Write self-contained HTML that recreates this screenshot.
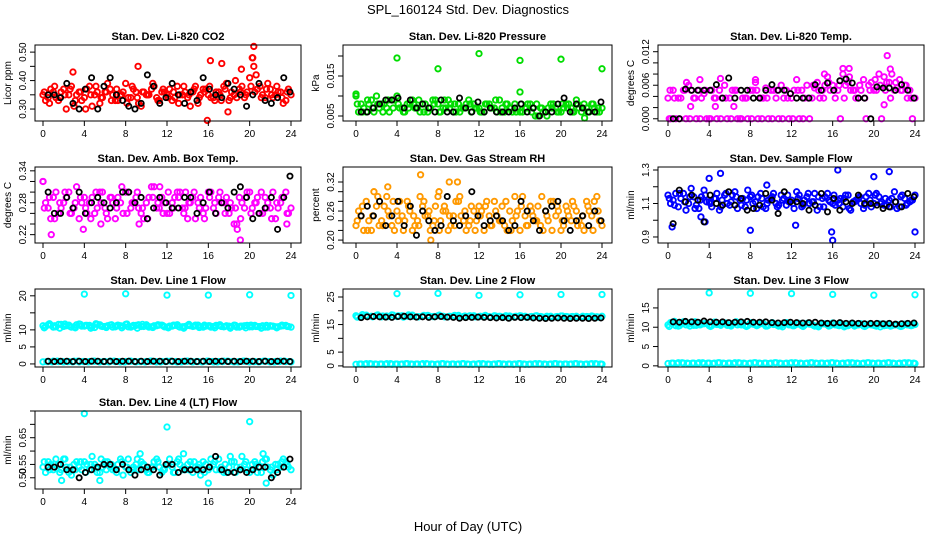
<!DOCTYPE html>
<html><head><meta charset="utf-8"><style>
html,body{margin:0;padding:0;background:#fff;}
svg{display:block;font-family:"Liberation Sans",sans-serif;}
</style></head><body>
<svg id="chart" width="936" height="540" viewBox="0 0 936 540" xmlns="http://www.w3.org/2000/svg">
<rect width="936" height="540" fill="#fff"/>
<text x="468" y="14" font-size="13" text-anchor="middle">SPL_160124  Std. Dev. Diagnostics</text>
<text x="468" y="531" font-size="13" text-anchor="middle">Hour of Day (UTC)</text>
</svg>
<script>
const hoursA=[0,0.5,1,1.5,2,2.5,3,3.5,4,4.5,5,5.5,6,6.5,7,7.5,8,8.5,9,9.5,10,10.5,11,11.5,12,12.5,13,13.5,14,14.5,15,15.5,16,16.5,17,17.5,18,18.5,19,19.5,20,20.5,21,21.5,22,22.5,23,23.5,24];
const hoursB=[0.25,0.75,1.25,1.75,2.25,2.75,3.25,3.75,4.25,4.75,5.25,5.75,6.25,6.75,7.25,7.75,8.25,8.75,9.25,9.75,10.25,10.75,11.25,11.75,12.25,12.75,13.25,13.75,14.25,14.75,15.25,15.75,16.25,16.75,17.25,17.75,18.25,18.75,19.25,19.75,20.25,20.75,21.25,21.75,22.25,22.75,23.25,23.75];
const hoursC=[0.125,0.625,1.125,1.625,2.125,2.625,3.125,3.625,4.125,4.625,5.125,5.625,6.125,6.625,7.125,7.625,8.125,8.625,9.125,9.625,10.125,10.625,11.125,11.625,12.125,12.625,13.125,13.625,14.125,14.625,15.125,15.625,16.125,16.625,17.125,17.625,18.125,18.625,19.125,19.625,20.125,20.625,21.125,21.625,22.125,22.625,23.125,23.625];
const hoursD=[0.375,0.875,1.375,1.875,2.375,2.875,3.375,3.875,4.375,4.875,5.375,5.875,6.375,6.875,7.375,7.875,8.375,8.875,9.375,9.875,10.375,10.875,11.375,11.875,12.375,12.875,13.375,13.875,14.375,14.875,15.375,15.875,16.375,16.875,17.375,17.875,18.375,18.875,19.375,19.875,20.375,20.875,21.375,21.875,22.375,22.875,23.375,23.875];
const hoursK=[0.5,1.1,1.7,2.3,2.9,3.5,4.1,4.7,5.3,5.9,6.5,7.1,7.7,8.3,8.9,9.5,10.1,10.7,11.3,11.9,12.5,13.1,13.7,14.3,14.9,15.5,16.1,16.7,17.3,17.9,18.5,19.1,19.7,20.3,20.9,21.5,22.1,22.7,23.3,23.9];
const xTicks=[0,4,8,12,16,20,24];

// CO2
const co2A=[0.35,0.34,0.36,0.33,0.37,0.35,0.31,0.36,0.34,0.38,0.35,0.32,0.36,0.37,0.33,0.35,0.39,0.34,0.36,0.31,0.35,0.37,0.34,0.36,0.35,0.33,0.38,0.35,0.34,0.36,0.32,0.37,0.35,0.34,0.36,0.38,0.33,0.35,0.37,0.34,0.41,0.36,0.38,0.34,0.37,0.35,0.36,0.33,0.35];
const co2B=[0.33,0.37,0.34,0.36,0.30,0.38,0.35,0.33,0.37,0.31,0.36,0.34,0.39,0.35,0.33,0.36,0.34,0.37,0.32,0.36,0.35,0.38,0.33,0.36,0.37,0.34,0.35,0.36,0.31,0.38,0.35,0.37,0.34,0.36,0.33,0.39,0.36,0.34,0.38,0.36,0.48,0.37,0.35,0.39,0.34,0.36,0.32,0.37];
const co2C=[0.36,0.32,0.38,0.34,0.35,0.37,0.33,0.36,0.30,0.35,0.38,0.34,0.36,0.33,0.37,0.35,0.32,0.38,0.34,0.36,0.35,0.39,0.33,0.37,0.34,0.36,0.32,0.38,0.35,0.37,0.34,0.36,0.38,0.33,0.35,0.37,0.34,0.40,0.36,0.35,0.38,0.42,0.34,0.37,0.35,0.38,0.34,0.36];
const co2OutH=[2.9,9.2,15.9,16.2,17.3,20.3,20.4,20.4,19.2,17.9];
const co2OutV=[0.43,0.45,0.26,0.47,0.46,0.48,0.52,0.45,0.44,0.29];
const co2K=[0.35,0.35,0.34,0.39,0.32,0.30,0.37,0.41,0.30,0.38,0.41,0.35,0.33,0.31,0.30,0.32,0.42,0.38,0.32,0.34,0.39,0.35,0.32,0.36,0.33,0.41,0.37,0.35,0.34,0.39,0.37,0.35,0.31,0.35,0.39,0.33,0.32,0.34,0.41,0.36];
// Pressure
const prA=[0.010,0.008,0.006,0.009,0.010,0.008,0.007,0.009,0.010,0.007,0.008,0.009,0.007,0.008,0.006,0.009,0.008,0.007,0.009,0.006,0.008,0.007,0.009,0.008,0.007,0.006,0.008,0.007,0.009,0.006,0.007,0.008,0.006,0.007,0.008,0.005,0.007,0.006,0.008,0.007,0.006,0.008,0.007,0.009,0.006,0.007,0.008,0.006,0.007];
const prB=[0.006,0.007,0.008,0.006,0.007,0.008,0.006,0.009,0.007,0.006,0.008,0.007,0.006,0.008,0.007,0.009,0.006,0.007,0.008,0.006,0.007,0.008,0.006,0.007,0.006,0.008,0.007,0.006,0.007,0.008,0.006,0.007,0.006,0.008,0.007,0.005,0.006,0.007,0.008,0.006,0.007,0.008,0.006,0.007,0.008,0.006,0.007,0.006];
const prC=[0.008,0.006,0.009,0.007,0.008,0.006,0.009,0.007,0.008,0.006,0.007,0.008,0.009,0.006,0.007,0.008,0.006,0.009,0.007,0.008,0.006,0.007,0.008,0.007,0.006,0.008,0.007,0.009,0.006,0.008,0.007,0.006,0.008,0.007,0.006,0.008,0.007,0.005,0.007,0.006,0.008,0.007,0.006,0.008,0.007,0.006,0.008,0.007];
const prOutH=[4,8,12,16,20,24,16,22.3,0];
const prOutV=[0.0195,0.0168,0.0206,0.0189,0.0192,0.0168,0.0110,0.0045,0.0105];
const prK=[0.006,0.006,0.007,0.008,0.009,0.009,0.0095,0.007,0.009,0.007,0.008,0.007,0.006,0.009,0.006,0.006,0.0095,0.007,0.006,0.0085,0.006,0.007,0.006,0.006,0.006,0.007,0.008,0.006,0.007,0.005,0.006,0.006,0.008,0.0095,0.006,0.008,0.007,0.006,0.006,0.0085];
// Li temp
const ltA=[0.0037,0.0051,0.0037,0.0051,0.0060,0.0037,0.0051,0.0045,0.0000,0.0037,0.0051,0.0060,0.0037,0.0051,0.0000,0.0037,0.0051,0.0065,0.0037,0.0055,0.0051,0.0037,0.0060,0.0051,0.0037,0.0070,0.0051,0.0060,0.0037,0.0065,0.0051,0.0075,0.0060,0.0051,0.0080,0.0065,0.0051,0.0037,0.0070,0.0060,0.0051,0.0080,0.0075,0.0065,0.0051,0.0070,0.0060,0.0051,0.0037];
const ltB=[0,0,0.0037,0,0.0051,0,0.0037,0,0.0051,0,0.0037,0,0.0051,0,0.0037,0,0.0051,0,0.0037,0,0.0051,0,0.0037,0,0.0051,0,0.0037,0,0.0055,0.0037,0.0060,0.0051,0.0037,0,0.0060,0.0051,0.0037,0.0051,0,0.0065,0.0051,0,0.0065,0.0080,0.0055,0.0051,0.0037,0];
const ltC=[0,0.0037,0,0.0051,0,0.0037,0,0.0051,0,0.0037,0,0.0037,0,0.0051,0,0.0037,0,0.0051,0,0.0037,0,0.0051,0,0.0037,0,0.0051,0,0.0037,0.0060,0.0051,0.0037,0.0065,0.0051,0.0060,0.0037,0.0075,0.0051,0.0060,0.0037,0.0051,0.0070,0.0060,0.0051,0.0037,0.0065,0.0051,0.0060,0.0037];
const ltOutH=[0.2,1.8,3.1,5.1,8.5,15.2,17,17.6,21.3,21.6,21.0,2.2,4.6,6.4];
const ltOutV=[0.0051,0.0065,0.0070,0.0072,0.0070,0.0080,0.0090,0.0090,0.0113,0.0089,0.0025,0.0022,0.0022,0.0022];
const ltK=[0,0,0.0053,0.0051,0.0051,0.0051,0.0051,0.0061,0.0037,0.0073,0.0037,0.0051,0.0051,0.0037,0.0037,0.0051,0.0061,0.0051,0.0051,0.0045,0.0037,0.0037,0.0037,0.0061,0.0051,0.0064,0.0051,0.0068,0.0071,0.0064,0.0037,0.0037,0,0.0057,0.0055,0.0055,0.0051,0.0061,0.0051,0.0037];
// Amb box
const abA=[0.32,0.27,0.29,0.26,0.28,0.30,0.27,0.25,0.29,0.28,0.26,0.30,0.27,0.29,0.25,0.28,0.30,0.27,0.29,0.26,0.28,0.31,0.27,0.29,0.26,0.28,0.30,0.27,0.25,0.29,0.28,0.26,0.30,0.27,0.29,0.28,0.26,0.24,0.29,0.27,0.30,0.28,0.26,0.29,0.27,0.25,0.28,0.30,0.27];
const abB=[0.28,0.25,0.30,0.27,0.29,0.26,0.31,0.28,0.26,0.29,0.27,0.30,0.25,0.28,0.29,0.26,0.30,0.28,0.27,0.25,0.29,0.31,0.27,0.28,0.26,0.29,0.30,0.27,0.28,0.25,0.29,0.27,0.30,0.26,0.28,0.29,0.27,0.24,0.28,0.30,0.27,0.29,0.26,0.28,0.30,0.27,0.29,0.26];
const abC=[0.27,0.29,0.25,0.28,0.30,0.26,0.28,0.29,0.27,0.25,0.30,0.28,0.26,0.29,0.27,0.31,0.26,0.28,0.30,0.27,0.25,0.29,0.28,0.26,0.30,0.27,0.29,0.26,0.28,0.30,0.27,0.25,0.29,0.28,0.30,0.26,0.28,0.27,0.25,0.29,0.26,0.28,0.30,0.27,0.25,0.28,0.29,0.26];
const abOutH=[0,0.8,3.9,11.3,13.8,19.1,18.8,9.3,23.6,5.6];
const abOutV=[0.32,0.22,0.23,0.31,0.30,0.21,0.23,0.24,0.24,0.24];
const abK=[0.30,0.26,0.26,0.29,0.27,0.30,0.26,0.28,0.29,0.28,0.27,0.28,0.30,0.30,0.28,0.29,0.25,0.27,0.29,0.28,0.27,0.27,0.29,0.29,0.26,0.28,0.30,0.26,0.28,0.27,0.30,0.31,0.29,0.25,0.26,0.27,0.29,0.23,0.29,0.33];
// RH
const rhA=[0.23,0.25,0.28,0.22,0.27,0.24,0.29,0.23,0.26,0.25,0.28,0.22,0.24,0.27,0.25,0.23,0.29,0.26,0.22,0.25,0.28,0.24,0.23,0.26,0.27,0.22,0.25,0.28,0.24,0.23,0.26,0.29,0.22,0.25,0.27,0.24,0.23,0.26,0.28,0.25,0.22,0.27,0.24,0.26,0.23,0.28,0.25,0.29,0.23];
const rhB=[0.26,0.22,0.24,0.30,0.23,0.27,0.25,0.22,0.28,0.24,0.26,0.23,0.29,0.25,0.22,0.27,0.24,0.26,0.23,0.28,0.25,0.22,0.27,0.24,0.26,0.28,0.23,0.25,0.27,0.22,0.24,0.26,0.29,0.23,0.25,0.27,0.22,0.24,0.28,0.26,0.23,0.25,0.27,0.24,0.22,0.26,0.28,0.24];
const rhC=[0.24,0.27,0.22,0.25,0.29,0.23,0.26,0.28,0.24,0.22,0.27,0.25,0.23,0.28,0.26,0.24,0.22,0.27,0.25,0.23,0.29,0.26,0.24,0.22,0.25,0.27,0.23,0.26,0.24,0.28,0.22,0.25,0.27,0.23,0.26,0.24,0.29,0.25,0.22,0.27,0.24,0.26,0.28,0.23,0.25,0.27,0.22,0.26];
const rhOutH=[6.3,9.1,9.9,7.3,3.1,8.1];
const rhOutV=[0.335,0.32,0.32,0.20,0.31,0.30];
const rhK=[0.25,0.27,0.25,0.28,0.23,0.25,0.28,0.23,0.27,0.21,0.26,0.24,0.22,0.23,0.29,0.24,0.23,0.25,0.30,0.25,0.23,0.24,0.25,0.24,0.22,0.23,0.28,0.26,0.24,0.22,0.26,0.27,0.28,0.24,0.22,0.24,0.25,0.23,0.26,0.24];
// Sample flow
const sfA=[1.15,1.12,1.08,1.16,1.10,1.14,1.07,1.18,1.11,1.13,1.06,1.15,1.09,1.17,1.12,1.08,1.14,1.11,1.16,1.07,1.13,1.10,1.15,1.09,1.12,1.17,1.08,1.14,1.11,1.06,1.13,1.16,1.10,1.12,1.08,1.15,1.11,1.13,1.07,1.16,1.10,1.14,1.09,1.12,1.17,1.08,1.13,1.11,1.15];
const sfB=[1.10,1.16,1.13,1.06,1.19,1.09,1.14,1.11,1.08,1.16,1.12,1.10,1.15,1.07,1.13,1.18,1.10,1.14,1.08,1.12,1.16,1.09,1.13,1.11,1.07,1.15,1.12,1.10,1.16,1.08,1.14,1.11,1.09,1.13,1.15,1.06,1.12,1.10,1.14,1.08,1.16,1.11,1.09,1.13,1.07,1.15,1.10,1.12];
const sfC=[1.13,1.09,1.16,1.11,1.14,1.07,1.12,1.15,1.10,1.13,1.08,1.16,1.11,1.14,1.09,1.12,1.15,1.07,1.13,1.10,1.14,1.08,1.12,1.15,1.10,1.13,1.09,1.16,1.11,1.14,1.08,1.12,1.15,1.10,1.13,1.07,1.11,1.14,1.09,1.12,1.15,1.10,1.13,1.08,1.11,1.14,1.09,1.12];
const sfOutH=[0.4,3.2,4.0,5.1,8.0,16.0,15.9,16.5,21.5,20.0,24,12.4,3.6,9.6];
const sfOutV=[0.96,1.02,1.25,1.28,0.94,0.88,0.93,1.30,1.29,1.26,0.93,0.97,0.99,1.21];
const sfK=[0.98,1.18,1.11,1.15,1.12,0.99,1.15,1.10,1.09,1.17,1.09,1.13,1.06,1.07,1.09,1.16,1.12,1.04,1.17,1.11,1.11,1.10,1.06,1.09,1.16,1.05,1.13,1.06,1.11,1.10,1.15,1.10,1.10,1.09,1.07,1.08,1.11,1.08,1.16,1.14];
// Line flows
const lowBand=[0.6,0.7,0.8,0.7,0.6,0.7,0.8,0.6,0.7,0.7,0.8,0.6,0.7,0.8,0.7,0.6,0.7,0.8,0.6,0.7,0.7,0.8,0.6,0.7,0.8,0.7,0.6,0.7,0.8,0.6,0.7,0.7,0.8,0.6,0.7,0.8,0.7,0.6,0.7,0.8,0.6,0.7,0.7,0.8,0.6,0.7,0.8,0.7,0.6];
const lowBand2=[0.7,0.6,0.8,0.7,0.7,0.6,0.8,0.7,0.6,0.8,0.7,0.7,0.6,0.8,0.7,0.6,0.8,0.7,0.7,0.6,0.8,0.7,0.6,0.7,0.8,0.7,0.6,0.8,0.7,0.7,0.6,0.8,0.7,0.6,0.7,0.8,0.7,0.6,0.8,0.7,0.7,0.6,0.8,0.7,0.6,0.7,0.8,0.7];
const l1A=[11.2,11.5,10.8,11.6,11.0,11.4,10.9,11.7,11.1,11.3,10.7,11.5,11.0,11.4,10.9,11.2,11.6,10.8,11.3,11.0,11.5,10.9,11.2,11.4,10.8,11.1,11.5,10.9,11.3,11.0,11.4,10.8,11.2,11.0,11.3,10.9,11.1,11.4,10.8,11.2,10.9,11.3,11.0,10.8,11.2,10.9,11.1,11.3,10.8];
const l1B=[11.0,11.4,10.9,11.6,11.2,10.8,11.5,11.1,11.3,10.9,11.6,11.0,11.2,10.8,11.4,11.1,10.9,11.3,11.5,11.0,10.8,11.2,11.4,10.9,11.1,11.3,10.8,11.0,11.2,11.4,10.9,11.1,10.8,11.3,11.0,11.2,10.9,10.8,11.1,11.3,10.9,11.0,11.2,10.8,11.1,10.9,11.2,11.0];
const l1C=[10.6,11.8,11.2,10.5,11.7,11.0,10.6,11.6,11.3,10.5,11.8,11.1,10.7,11.5,11.2,10.6,11.7,11.0,10.5,11.6,11.1,10.7,11.5,11.2,10.6,11.4,11.0,10.5,11.6,11.1,10.7,11.4,11.2,10.6,11.5,11.0,10.5,11.3,11.1,10.6,11.4,11.0,10.5,11.3,11.1,10.6,11.4,11.0];
const l1OutH=[4,8,12,16,20,24];
const l1OutV=[20.5,20.6,20.2,20.2,20.3,20.1];
const l1K=[0.8,0.7,0.8,0.8,0.7,0.8,0.7,0.8,0.8,0.7,0.8,0.7,0.8,0.8,0.7,0.8,0.7,0.8,0.8,0.7,0.8,0.7,0.8,0.8,0.7,0.8,0.7,0.8,0.8,0.7,0.8,0.7,0.8,0.8,0.7,0.8,0.7,0.8,0.8,0.7];
const l2A=[18.2,17.9,18.4,18.0,18.3,17.8,18.1,18.5,17.9,18.2,18.0,18.4,17.8,18.1,18.3,17.9,18.2,18.0,17.8,18.1,18.3,17.9,18.0,18.2,17.8,18.1,17.9,18.2,18.0,17.8,18.1,17.9,18.2,18.0,17.8,18.1,17.9,17.7,18.0,17.8,18.1,17.9,17.8,18.0,17.7,17.9,18.1,17.8,18.0];
const l2C=[17.7,18.6,18.0,17.8,18.5,18.1,17.9,18.4,18.2,17.7,18.5,18.0,17.8,18.3,18.1,17.9,18.4,17.8,18.0,18.3,17.7,18.1,18.2,17.8,18.0,18.3,17.7,18.1,17.9,18.2,17.8,18.0,18.1,17.7,17.9,18.2,17.8,18.0,17.7,17.9,18.1,17.8,17.9,17.6,18.0,17.8,17.9,17.7];
const l2OutH=[4,8,12,16,20,24];
const l2OutV=[26.2,26.3,25.6,25.8,25.9,25.9];
const l2K=[17.5,17.8,17.9,17.8,17.7,17.6,17.9,18.0,17.8,17.7,17.8,17.6,17.8,17.9,17.7,17.6,17.3,17.5,17.6,17.7,17.6,17.5,17.4,17.5,17.3,17.6,17.5,17.6,17.4,17.3,17.2,17.3,17.4,17.3,17.2,17.3,17.3,17.2,17.3,17.4];
const l3A=[10.6,11.1,10.3,11.4,10.8,10.5,11.2,10.9,10.4,11.3,10.7,11.0,10.5,11.2,10.8,10.4,11.1,10.6,10.9,10.3,11.0,10.7,10.5,11.2,10.6,10.9,10.4,11.0,10.7,10.3,10.9,10.6,11.1,10.5,10.8,10.4,10.9,10.6,10.3,10.8,10.5,10.9,10.4,10.7,10.6,10.3,10.8,10.5,10.7];
const l3B=[11.2,10.4,10.9,10.6,11.3,10.5,10.8,11.0,10.4,10.7,11.1,10.5,10.9,10.6,11.2,10.4,10.8,10.6,11.0,10.5,10.7,10.3,10.9,10.6,10.4,11.0,10.5,10.8,10.3,10.7,10.9,10.4,10.6,10.8,10.3,10.7,10.5,10.9,10.4,10.6,10.3,10.8,10.5,10.4,10.7,10.3,10.6,10.5];
const l3C=[10.2,11.5,10.4,11.2,10.3,11.4,10.6,11.0,10.2,11.3,10.5,11.1,10.3,11.4,10.6,10.2,11.2,10.4,11.0,10.3,11.2,10.5,10.1,11.1,10.4,10.8,10.2,11.0,10.5,10.1,10.9,10.3,11.0,10.4,10.1,10.8,10.3,10.9,10.2,10.7,10.4,10.1,10.8,10.3,10.6,10.2,10.7,10.4];
const l3OutH=[4,8,12,16,20,24];
const l3OutV=[18.9,18.8,18.7,18.5,18.3,18.4];
const l3K=[11.4,11.3,11.5,11.4,11.3,11.6,11.4,11.3,11.4,11.2,11.3,11.4,11.5,11.3,11.3,11.4,11.2,11.1,11.2,11.3,11.2,11.1,11.2,11.3,11.1,11.0,11.1,11.2,11.0,11.1,11.0,10.9,11.0,11.0,10.9,11.0,10.8,10.9,11.0,11.1];
const l4A=[0.54,0.56,0.53,0.55,0.57,0.52,0.55,0.54,0.56,0.53,0.55,0.52,0.56,0.54,0.53,0.57,0.54,0.52,0.55,0.56,0.53,0.54,0.57,0.52,0.55,0.54,0.56,0.53,0.55,0.52,0.54,0.56,0.53,0.55,0.57,0.52,0.54,0.56,0.53,0.55,0.52,0.56,0.54,0.57,0.53,0.55,0.54,0.56,0.53];
const l4B=[0.52,0.55,0.57,0.53,0.54,0.51,0.56,0.53,0.55,0.58,0.52,0.54,0.56,0.53,0.55,0.51,0.57,0.54,0.53,0.55,0.52,0.56,0.54,0.53,0.57,0.52,0.55,0.53,0.56,0.54,0.51,0.55,0.57,0.53,0.54,0.52,0.56,0.54,0.58,0.53,0.55,0.52,0.56,0.54,0.51,0.55,0.57,0.54];
const l4C=[0.56,0.53,0.55,0.52,0.57,0.54,0.53,0.56,0.52,0.55,0.54,0.57,0.53,0.55,0.52,0.56,0.54,0.53,0.57,0.55,0.52,0.54,0.56,0.53,0.55,0.52,0.57,0.54,0.53,0.56,0.55,0.52,0.54,0.56,0.53,0.55,0.58,0.52,0.54,0.56,0.53,0.55,0.52,0.57,0.54,0.53,0.56,0.55];
const l4OutH=[4,12,20,9.4,13.6,21.3,21.6,16,5.5,1.8];
const l4OutV=[0.74,0.69,0.71,0.59,0.59,0.59,0.48,0.48,0.49,0.49];
const l4K=[0.54,0.54,0.55,0.53,0.53,0.50,0.52,0.53,0.54,0.55,0.55,0.53,0.55,0.53,0.51,0.53,0.54,0.53,0.51,0.55,0.55,0.52,0.53,0.53,0.53,0.53,0.54,0.58,0.53,0.52,0.52,0.53,0.52,0.53,0.54,0.54,0.50,0.52,0.54,0.57];

const NS="http://www.w3.org/2000/svg";
const svg=document.getElementById('chart');
const cols=[{l:35,r:301,x0:43,x24:291},{l:343,r:612,x0:356,x24:602},{l:658,r:924,x0:668,x24:915}];
const rows=[{t:45,b:121},{t:167,b:243},{t:289,b:367},{t:411,b:489}];
function mk(tag,attrs,parent){const e=document.createElementNS(NS,tag);for(const k in attrs)e.setAttribute(k,attrs[k]);(parent||svg).appendChild(e);return e;}

const panels=[
 {c:0,r:0,title:"Stan. Dev. Li-820 CO2",yl:"Licor ppm",ylim:[0.258,0.525],ticks:[0.30,0.35,0.40,0.45,0.50],labels:[0.30,0.40,0.50],lf:2,col:"#ff0000",series:[[hoursA,co2A],[hoursB,co2B],[hoursC,co2C],[co2OutH,co2OutV]],k:co2K},
 {c:1,r:0,title:"Stan. Dev. Li-820 Pressure",yl:"kPa",ylim:[0.00375,0.02275],ticks:[0.005,0.010,0.015,0.020],labels:[0.005,0.015],lf:3,col:"#00dd00",series:[[hoursA,prA],[hoursB,prB],[hoursC,prC],[prOutH,prOutV]],k:prK},
 {c:2,r:0,title:"Stan. Dev. Li-820 Temp.",yl:"degrees C",ylim:[-0.0004,0.0132],ticks:[0,0.002,0.004,0.006,0.008,0.010,0.012],labels:[0,0.006,0.012],lf:3,col:"#ff00ff",series:[[hoursA,ltA],[hoursB,ltB],[hoursC,ltC],[ltOutH,ltOutV]],k:ltK},
 {c:0,r:1,title:"Stan. Dev. Amb. Box Temp.",yl:"degrees C",ylim:[0.2043,0.3472],ticks:[0.22,0.24,0.26,0.28,0.30,0.32,0.34],labels:[0.22,0.28,0.34],lf:2,col:"#ff00ff",series:[[hoursA,abA],[hoursB,abB],[hoursC,abC],[abOutH,abOutV]],k:abK},
 {c:1,r:1,title:"Stan. Dev. Gas Stream RH",yl:"percent",ylim:[0.194,0.351],ticks:[0.20,0.22,0.24,0.26,0.28,0.30,0.32],labels:[0.20,0.26,0.32],lf:2,col:"#ff9900",series:[[hoursA,rhA],[hoursB,rhB],[hoursC,rhC],[rhOutH,rhOutV]],k:rhK},
 {c:2,r:1,title:"Stan. Dev. Sample Flow",yl:"ml/min",ylim:[0.864,1.318],ticks:[0.9,1.0,1.1,1.2,1.3],labels:[0.9,1.1,1.3],lf:1,col:"#0000ff",series:[[hoursA,sfA],[hoursB,sfB],[hoursC,sfC],[sfOutH,sfOutV]],k:sfK},
 {c:0,r:2,title:"Stan. Dev. Line 1 Flow",yl:"ml/min",ylim:[-0.9,22],ticks:[0,5,10,15,20],labels:[0,5,10,20],lf:0,col:"#00ffff",series:[[hoursA,l1A],[hoursB,l1B],[hoursC,l1C],[hoursA,lowBand],[hoursD,lowBand2],[l1OutH,l1OutV]],k:l1K},
 {c:1,r:2,title:"Stan. Dev. Line 2 Flow",yl:"ml/min",ylim:[-0.4,27.9],ticks:[0,5,10,15,20,25],labels:[0,5,15,25],lf:0,col:"#00ffff",series:[[hoursA,l2A],[hoursC,l2C],[hoursA,lowBand],[hoursD,lowBand2],[l2OutH,l2OutV]],k:l2K},
 {c:2,r:2,title:"Stan. Dev. Line 3 Flow",yl:"ml/min",ylim:[-0.3,19.9],ticks:[0,5,10,15],labels:[0,5,10,15],lf:0,col:"#00ffff",series:[[hoursA,l3A],[hoursB,l3B],[hoursC,l3C],[hoursA,lowBand],[hoursD,lowBand2],[l3OutH,l3OutV]],k:l3K},
 {c:0,r:3,title:"Stan. Dev. Line 4 (LT) Flow",yl:"ml/min",ylim:[0.458,0.75],ticks:[0.50,0.55,0.60,0.65,0.70,0.75],labels:[0.50,0.55,0.65],lf:2,col:"#00ffff",series:[[hoursA,l4A],[hoursB,l4B],[hoursC,l4C],[l4OutH,l4OutV]],k:l4K}
];

panels.forEach((p,i)=>{
 const C=cols[p.c],R=rows[p.r];
 const g=mk('g',{});
 
 
 const sx=h=>C.x0+(C.x24-C.x0)*h/24;
 const sy=v=>R.b-(v-p.ylim[0])/(p.ylim[1]-p.ylim[0])*(R.b-R.t);
 const t=mk('text',{x:(C.l+C.r)/2,y:R.t-5,'font-size':11,'font-weight':'bold','text-anchor':'middle'},g);
 t.textContent=p.title;
 
 
 const pts=mk('g',{},g);
 
 
 p.series.forEach(s=>{s[0].forEach((h,j)=>{if(s[1][j]===undefined)return;
   const c=mk('circle',{cx:sx(h),cy:sy(s[1][j]),r:2.7,fill:'none',stroke:p.col,'stroke-width':1.9},pts);
   
   
 });});
 const kg=mk('g',{},g);
 
 
 hoursK.forEach((h,j)=>{
   const c=mk('circle',{cx:sx(h),cy:sy(p.k[j]),r:2.6,fill:'none',stroke:'#000','stroke-width':1.8},kg);
   
   
 });
 const box=mk('rect',{x:C.l,y:R.t,width:C.r-C.l,height:R.b-R.t,fill:'none',stroke:'#000','stroke-width':1},g);
 
 
 xTicks.forEach(h=>{
   mk('line',{x1:sx(h),x2:sx(h),y1:R.b,y2:R.b+5,stroke:'#000'},g);
   const tl=mk('text',{x:sx(h),y:R.b+16,'font-size':10,'text-anchor':'middle'},g);
   tl.textContent=h;
   
   
 });
 p.ticks.forEach(v=>{mk('line',{x1:C.l-5,x2:C.l,y1:sy(v),y2:sy(v),stroke:'#000'},g);});
 p.labels.forEach(v=>{
   const y=sy(v),x=C.l-9;
   const tl=mk('text',{x:x,y:y,'font-size':10,'text-anchor':'middle',transform:`rotate(-90 ${x} ${y})`},g);
   tl.textContent=v.toFixed(p.lf);
   
   
 });
 const yx=C.l-24,yy=(R.t+R.b)/2;
 const yt=mk('text',{x:yx,y:yy,'font-size':10,'text-anchor':'middle',transform:`rotate(-90 ${yx} ${yy})`},g);
 yt.textContent=p.yl;
 
 
});
</script>
</body></html>
